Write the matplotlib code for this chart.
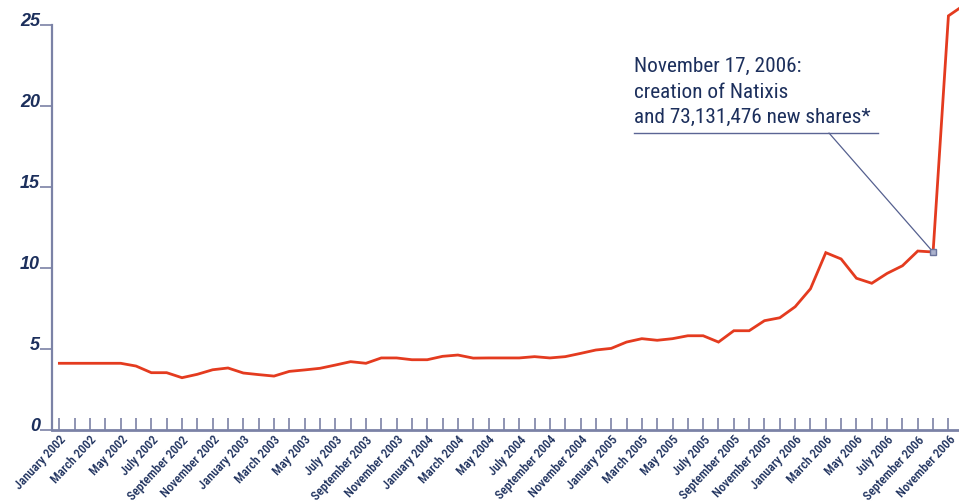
import matplotlib
matplotlib.use("Agg")
import matplotlib.pyplot as plt
from matplotlib.lines import Line2D

# ---- data ----
month_labels = [f"{m} {y}" for y in range(2002, 2007)
                for m in ["January", "March", "May", "July", "September", "November"]]
values = [4.10, 4.10, 4.10, 4.10, 4.10, 3.93, 3.52, 3.52, 3.21, 3.42,
          3.70, 3.81, 3.50, 3.40, 3.31, 3.60, 3.69, 3.79, 3.99, 4.20,
          4.10, 4.43, 4.43, 4.32, 4.32, 4.53, 4.61, 4.42, 4.43, 4.43,
          4.43, 4.51, 4.43, 4.51, 4.71, 4.92, 5.02, 5.41, 5.62, 5.52,
          5.62, 5.80, 5.80, 5.41, 6.11, 6.11, 6.73, 6.91, 7.59, 8.70,
          10.93, 10.54, 9.35, 9.04, 9.65, 10.12, 11.03, 10.97, 25.55, 26.2]
y_ticks = [0, 5, 10, 15, 20, 25]
event_index = 57
annotation_lines = ["November 17, 2006:", "creation of Natixis",
                    "and 73,131,476 new shares*"]

# ---- style ----
cond = ["Roboto Condensed", "Liberation Sans", "DejaVu Sans"]
base = ["Liberation Sans", "DejaVu Sans"]
navy = "#1c2f5c"
axis_col = "#7b82a6"
red = "#e43b1f"

W, H = 959, 502
fig = plt.figure(figsize=(W / 100, H / 100), dpi=100)
ax_left, ax_right = 51.7, 959
ax_bottom_px, ax_top_px = 430.7, 0
ax = fig.add_axes([ax_left / W, (H - ax_bottom_px) / H,
                   (ax_right - ax_left) / W, (ax_bottom_px - ax_top_px) / H])

x = list(range(len(values)))
ax.plot(x, values, color=red, lw=2.0, solid_joinstyle="miter", zorder=3)
ax.plot([event_index], [values[event_index]], marker="s", ms=4.5,
        mfc="#aab1cc", mec="#6a739c", mew=1, zorder=4)

ax.set_xlim(-0.5, 58.69)
ax.set_ylim(0, 26.59)

for s in ["top", "right"]:
    ax.spines[s].set_visible(False)
ax.spines["left"].set_bounds(0, 25)
ax.spines["left"].set_color(axis_col)
ax.spines["left"].set_linewidth(1.6)
ax.spines["bottom"].set_color(axis_col)
ax.spines["bottom"].set_linewidth(2.0)

# y ticks
ax.set_yticks(y_ticks)
ax.set_yticklabels([str(v) for v in y_ticks])
ax.tick_params(axis="y", direction="out", length=8.4, width=1.2,
               colors=axis_col, pad=0)
for lab in ax.get_yticklabels():
    lab.set_color(navy)
    lab.set_fontfamily(base)
    lab.set_fontstyle("italic")
    lab.set_fontweight("bold")
    lab.set_fontsize(13)
    lab.set_verticalalignment("baseline")

# x ticks: every month, label every second month
n_ticks = 59
ax.set_xticks(range(n_ticks))
xl = [month_labels[i // 2] if i % 2 == 0 else "" for i in range(n_ticks)]
ax.set_xticklabels(xl)
ax.tick_params(axis="x", direction="in", length=8.6, width=1.2,
               colors=axis_col, pad=2)
for lab in ax.get_xticklabels():
    lab.set_color(navy)
    lab.set_fontfamily(cond)
    lab.set_fontsize(9.1)
    lab.set_fontweight("medium")
    lab.set_rotation(47)
    lab.set_rotation_mode("anchor")
    lab.set_ha("right")
    lab.set_va("top")

# annotation (three lines, baselines matched)
for line, base_px in zip(annotation_lines, [71.7, 97.7, 123.3]):
    fig.text(634 / W, 1 - base_px / H, line, color=navy, fontsize=15.3,
             family=cond, va="baseline", ha="left")
fig.add_artist(Line2D([634 / W, 878 / W], [1 - 134 / H, 1 - 134 / H],
                      color="#5b6594", lw=1.0))
ax.annotate("", xy=(event_index, values[event_index]), xycoords="data",
            xytext=(829, H - 134), textcoords="figure pixels",
            arrowprops=dict(arrowstyle="-", color="#55608f", lw=0.9,
                            shrinkA=0, shrinkB=2))

fig.savefig("out.png", dpi=100)
